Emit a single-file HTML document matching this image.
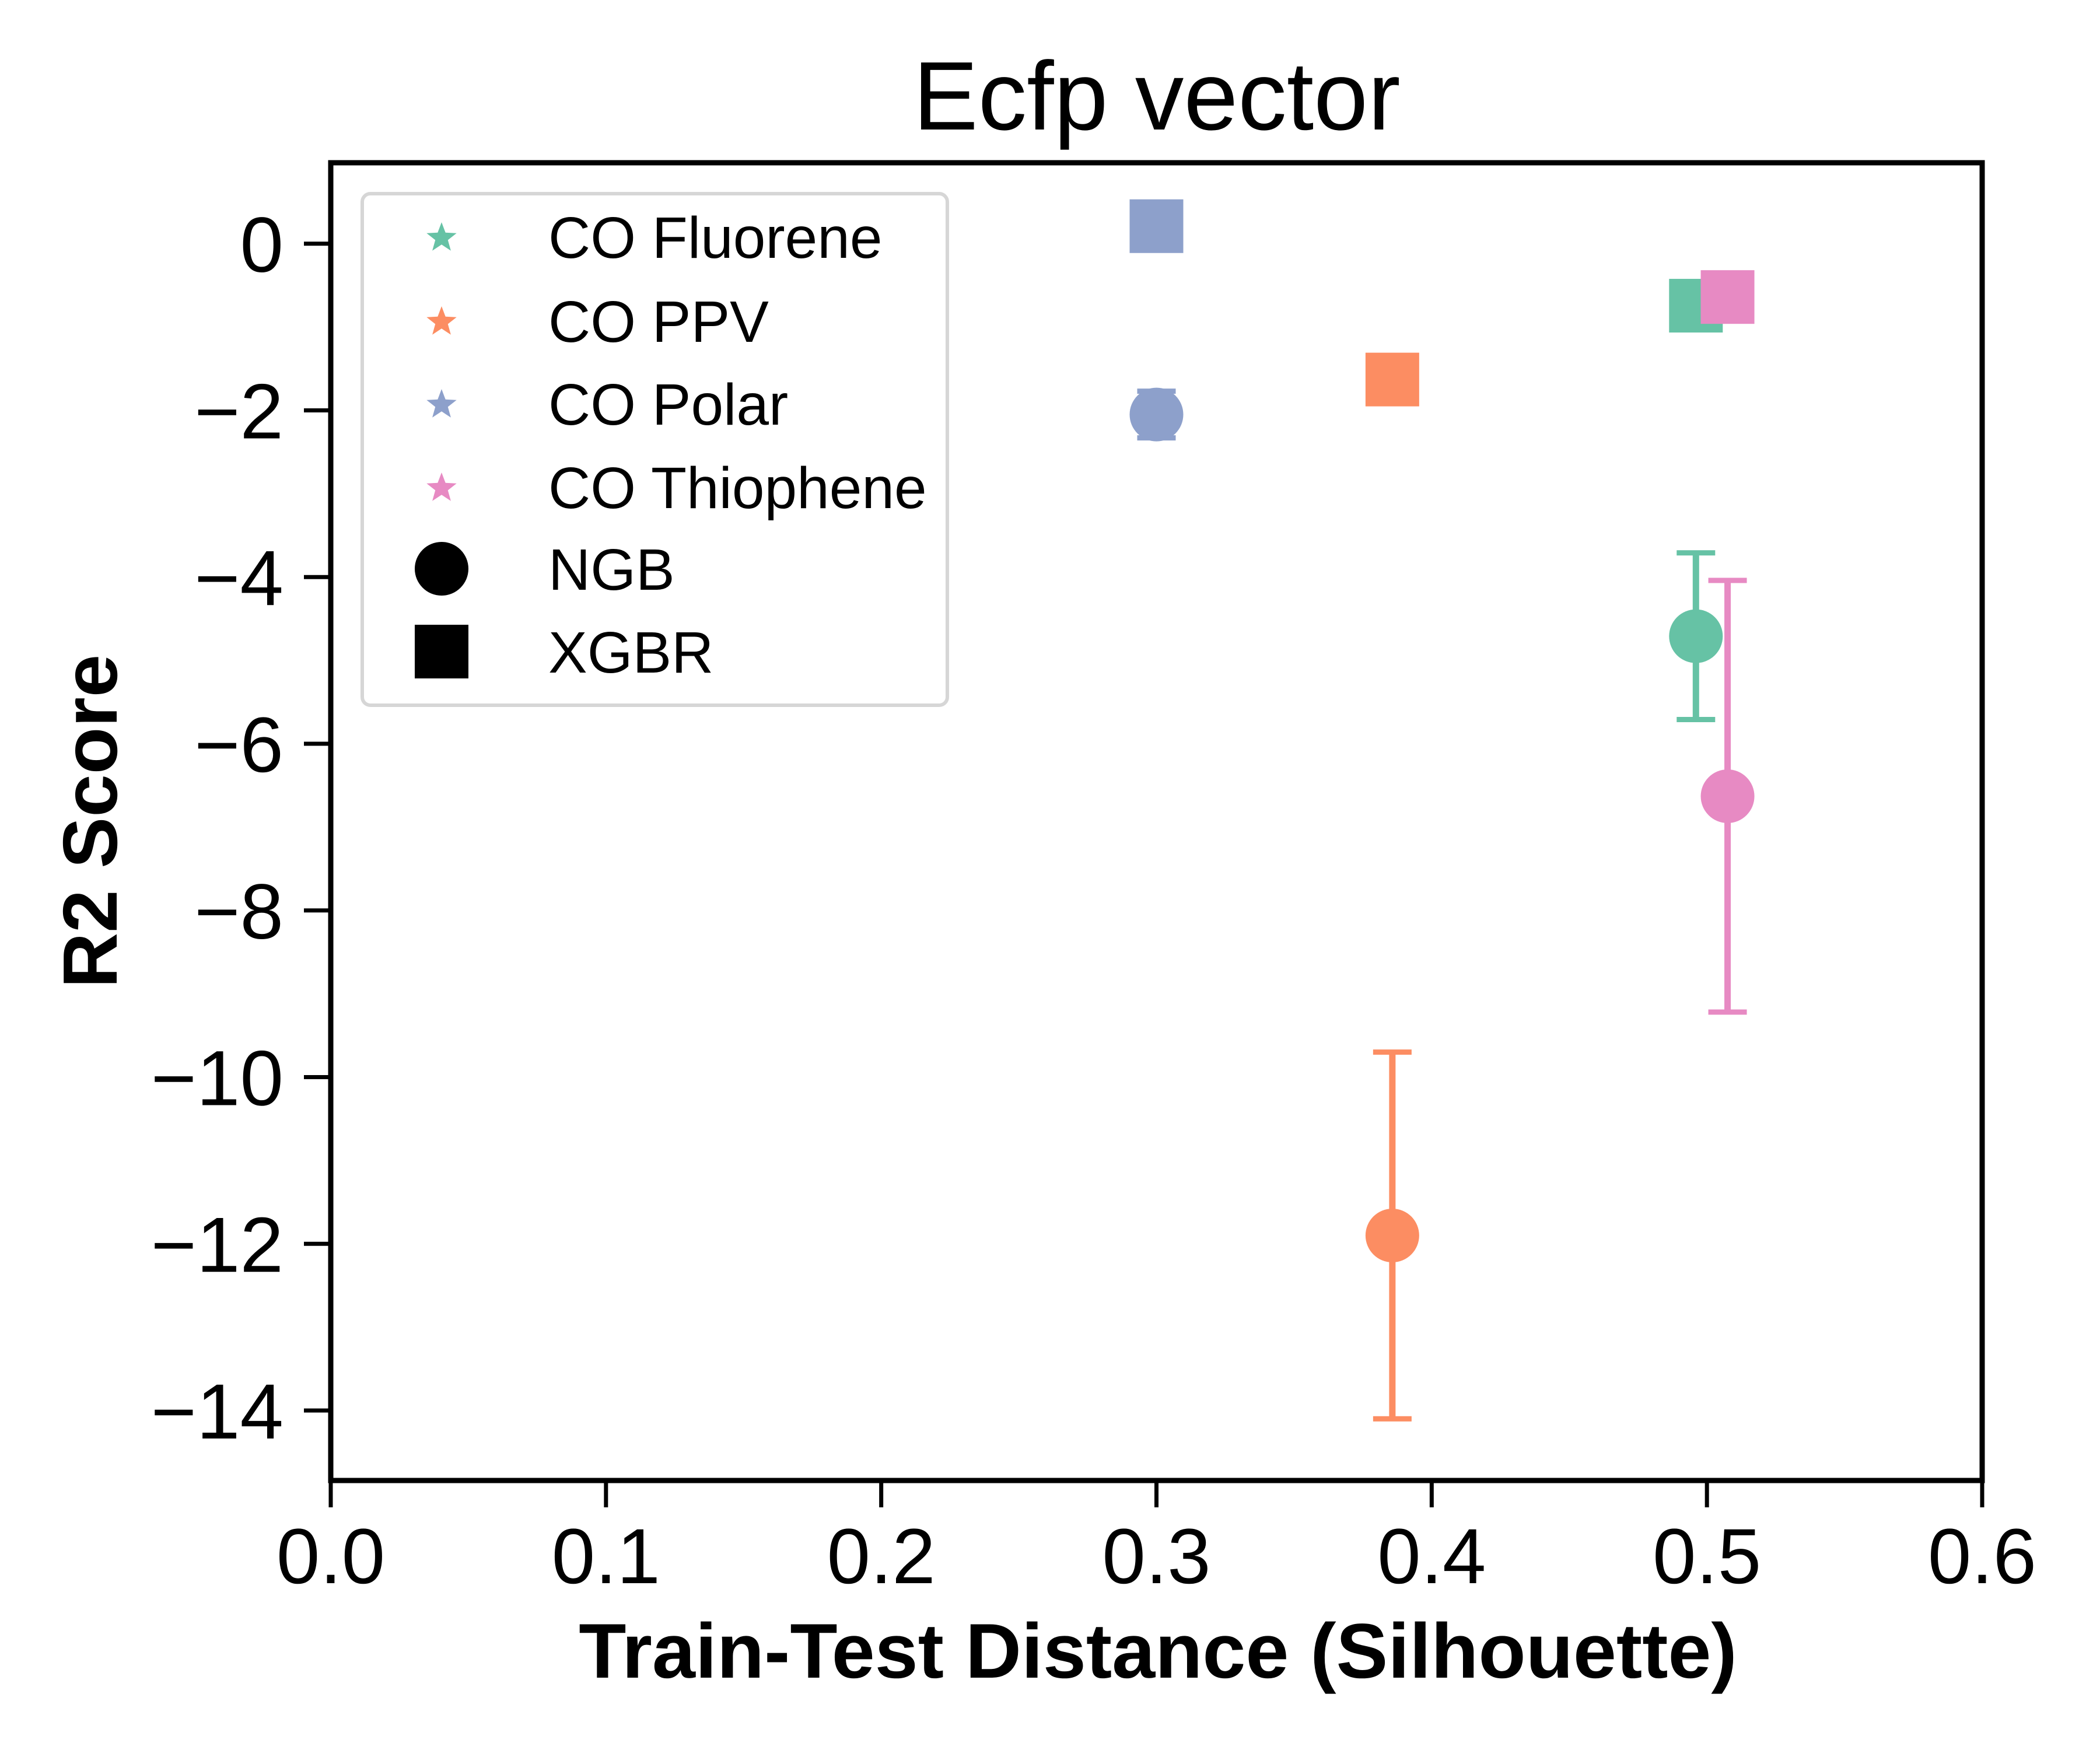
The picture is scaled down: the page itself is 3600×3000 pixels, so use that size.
<!DOCTYPE html>
<html><head><meta charset="utf-8"><style>
html,body{margin:0;padding:0;background:#fff;}
svg{display:block;font-family:"Liberation Sans",Arial,sans-serif;}
</style></head><body>
<svg id="chart" width="3600" height="3000" viewBox="0 0 3600 3000" xmlns="http://www.w3.org/2000/svg">
<rect width="3600" height="3000" fill="#fff"/>
<text x="1983" y="222" font-size="167" text-anchor="middle">Ecfp vector</text>
<g id="marks"></g>
<g id="axes"></g>
<text x="1985" y="2876" font-size="133" font-weight="bold" text-anchor="middle">Train-Test Distance (Silhouette)</text>
<text transform="translate(200,1408) rotate(-90)" font-size="132" font-weight="bold" text-anchor="middle">R2 Score</text>
<g>
<rect x="621" y="332" width="1003" height="877" rx="14" fill="#fff" stroke="#d6d6d6" stroke-width="6"/>
<g id="legend-items"></g>
</g>
</svg>
<script>
const groups = ["CO Fluorene","CO PPV","CO Polar","CO Thiophene"];
const colors = ["#66c2a5","#fc8d62","#8da0cb","#e78ac3"];
const ngbX = [0.496, 0.3857, 0.300, 0.5075];
const ngbY = [-4.71, -11.9, -2.05, -6.63];
const ngbErr = [1.0, 2.2, 0.28, 2.59];
const xgbrX = [0.496, 0.3857, 0.300, 0.5075];
const xgbrY = [-0.744, -1.63, 0.21, -0.64];
const xTicks = [0,0.1,0.2,0.3,0.4,0.5,0.6];
const xTickLabels = ["0.0","0.1","0.2","0.3","0.4","0.5","0.6"];
const yTicks = [0,-2,-4,-6,-8,-10,-12,-14];
const yTickLabels = ["0","\u22122","\u22124","\u22126","\u22128","\u221210","\u221212","\u221214"];

const L=567, R=3398, T=279, B=2538;
const xMin=0, xMax=0.6, yMax=0.971, yMin=-14.84;
const sx = v => L + (v-xMin)/(xMax-xMin)*(R-L);
const sy = v => T + (yMax-v)/(yMax-yMin)*(B-T);
const NS="http://www.w3.org/2000/svg";
function mk(tag, attrs, parent){const e=document.createElementNS(NS,tag);for(const k in attrs)e.setAttribute(k,attrs[k]);parent.appendChild(e);return e;}
const marks=document.getElementById('marks');
const axes=document.getElementById('axes');
const cap=33, ms=92;

for(let i=0;i<groups.length;i++){
  const g=mk('g',{},marks);
  
  
  const x=sx(ngbX[i]), y1=sy(ngbY[i]+ngbErr[i]), y2=sy(ngbY[i]-ngbErr[i]);
  mk('line',{x1:x,x2:x,y1:y1,y2:y2,stroke:colors[i],'stroke-width':11},g);
  mk('line',{x1:x-cap,x2:x+cap,y1:y1,y2:y1,stroke:colors[i],'stroke-width':9},g);
  mk('line',{x1:x-cap,x2:x+cap,y1:y2,y2:y2,stroke:colors[i],'stroke-width':9},g);
  const c=mk('circle',{cx:x,cy:sy(ngbY[i]),r:ms/2,fill:colors[i]},marks);
  
  
}
for(let i=0;i<groups.length;i++){
  const s=mk('rect',{x:sx(xgbrX[i])-ms/2,y:sy(xgbrY[i])-ms/2,width:ms,height:ms,fill:colors[i]},marks);
  
  
}
const frame=mk('rect',{x:L,y:T,width:R-L,height:B-T,fill:'none',stroke:'#000','stroke-width':9},axes);


for(let i=0;i<xTicks.length;i++){
  const x=sx(xTicks[i]);
  mk('line',{x1:x,x2:x,y1:B,y2:B+46,stroke:'#000','stroke-width':7},axes);
  const t=mk('text',{x:x,y:2714,'font-size':134,'text-anchor':'middle'},axes);
  t.textContent=xTickLabels[i];
  
  
}
for(let i=0;i<yTicks.length;i++){
  const y=sy(yTicks[i]);
  mk('line',{x1:L-46,x2:L,y1:y,y2:y,stroke:'#000','stroke-width':7},axes);
  const t=mk('text',{x:486,y:y+48,'font-size':134,'text-anchor':'end'},axes);
  t.textContent=yTickLabels[i];
  
  
}
const li=document.getElementById('legend-items');
const rowY=[406,550,692,835,975,1117];
function star(cx,cy,r,fill){let p=[];for(let k=0;k<10;k++){const a=-Math.PI/2+k*Math.PI/5;const rr=k%2?r*0.42:r;p.push((cx+rr*Math.cos(a)).toFixed(1)+','+(cy+rr*Math.sin(a)).toFixed(1));}return mk('polygon',{points:p.join(' '),fill:fill},li);}
for(let i=0;i<groups.length;i++){
  const s=star(757,rowY[i]+2,27,colors[i]);
  
  
  const t=mk('text',{x:940,y:rowY[i]+36,'font-size':100},li);
  t.textContent=groups[i];
  
  
}
const lc=mk('circle',{cx:757,cy:rowY[4],r:46,fill:'#000'},li);


const t1=mk('text',{x:940,y:rowY[4]+36,'font-size':100},li);t1.textContent='NGB';


const lr=mk('rect',{x:757-46,y:rowY[5]-46,width:92,height:92,fill:'#000'},li);


const t2=mk('text',{x:940,y:rowY[5]+36,'font-size':100},li);t2.textContent='XGBR';


</script>
</body></html>
